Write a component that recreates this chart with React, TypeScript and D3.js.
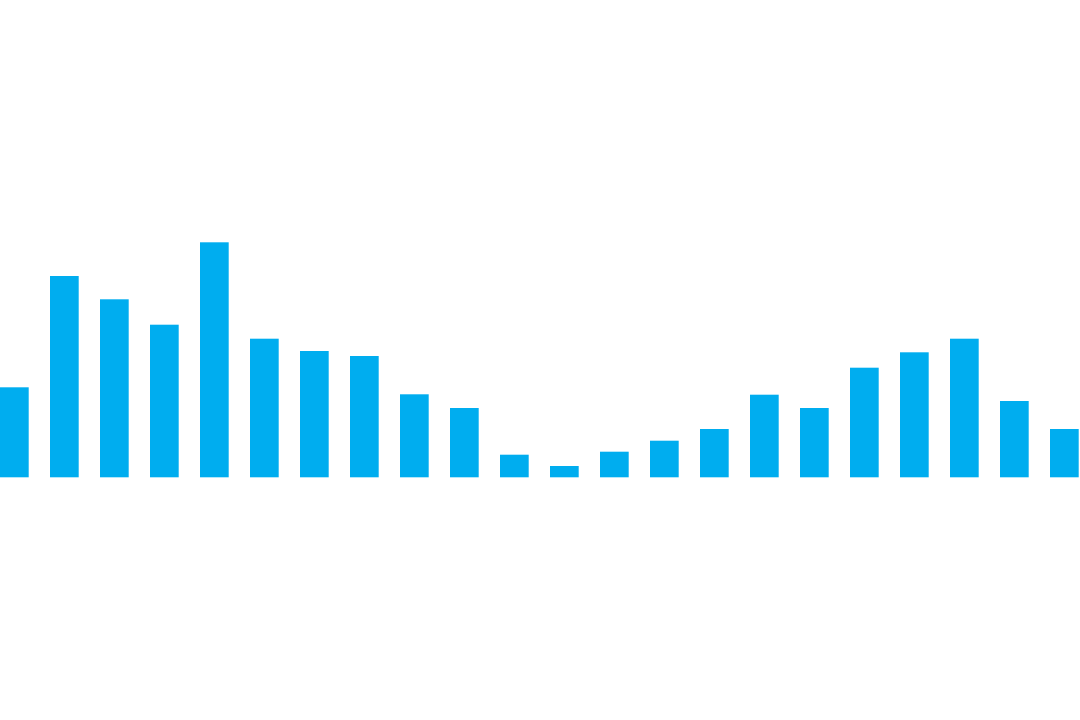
import { useEffect, useRef } from "react";
import * as d3 from "d3";

const categories = [
  "1", "2", "3", "4", "5", "6", "7", "8", "9", "10", "11",
  "12", "13", "14", "15", "16", "17", "18", "19", "20", "21", "22",
];
const values = [
  90, 201.3, 178, 152.6, 235, 138.6, 126.3, 121.3, 83, 69.3, 22.6,
  11.3, 25.6, 36.6, 48.3, 82.6, 69.3, 109.6, 125, 138.6, 76.3, 48.3,
];

export default function App() {
  const svgRef = useRef<SVGSVGElement>(null);

  useEffect(() => {
    document.body.style.margin = "0";
    if (!svgRef.current) return;
    const svg = d3.select(svgRef.current);
    svg.selectAll("*").remove();

    const width = 1080;
    const height = 720;
    const baseline = 477.3;
    const pad = 0.426;
    const step = 50;

    svg.attr("width", width).attr("height", height).attr("viewBox", `0 0 ${width} ${height}`);

    const x = d3
      .scaleBand<string>()
      .domain(categories)
      .range([0, step * (categories.length - pad)])
      .paddingInner(pad)
      .paddingOuter(0);

    const y = d3.scaleLinear().domain([0, 250]).range([baseline, baseline - 250]);

    svg
      .append("g")
      .selectAll("rect")
      .data(values)
      .join("rect")
      .attr("x", (_, i) => x(categories[i]) as number)
      .attr("y", (d) => y(d))
      .attr("width", x.bandwidth())
      .attr("height", (d) => y(0) - y(d))
      .attr("fill", "#00adef");
  }, []);

  return <svg ref={svgRef} style={{ display: "block" }} />;
}
